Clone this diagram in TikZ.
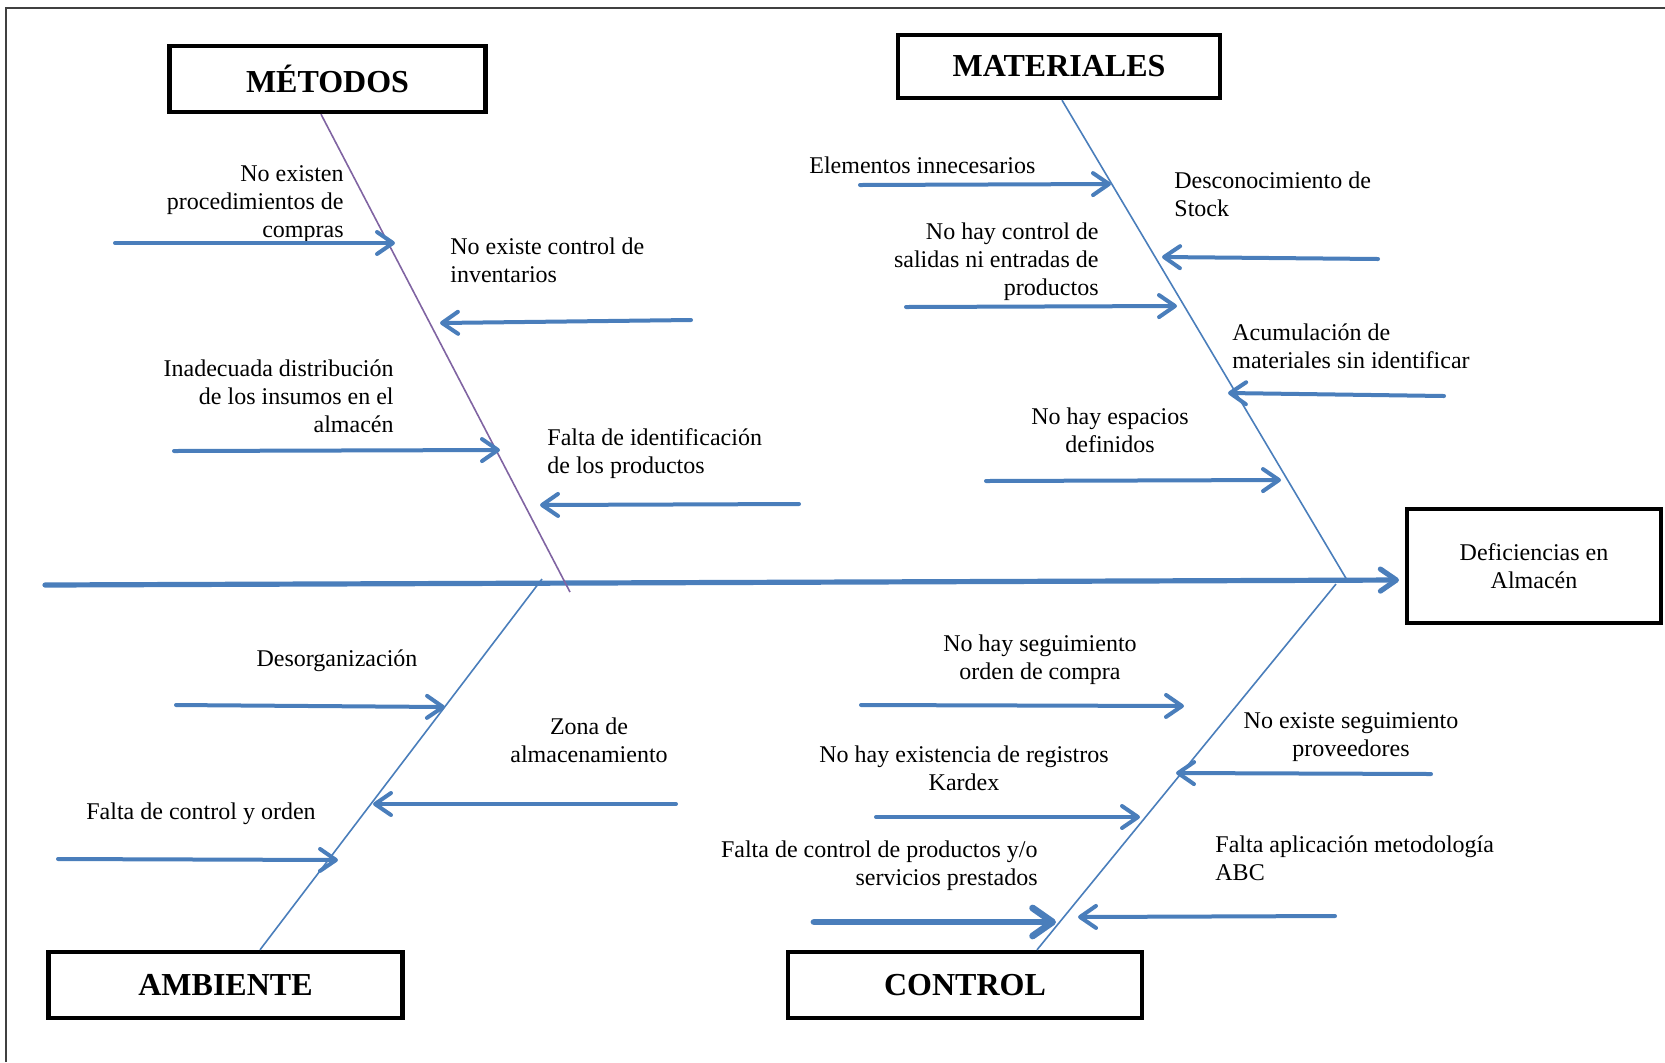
\documentclass[tikz,border=0pt]{standalone}
\usepackage{fontspec}
\setmainfont{Liberation Serif}
\usetikzlibrary{arrows.meta}
\definecolor{fishblue}{HTML}{4A7EBB}
\definecolor{fishpurple}{HTML}{8064A2}
\definecolor{framegray}{HTML}{404040}
\begin{document}
\begin{tikzpicture}[x=0.5pt,y=-0.5pt,
  lbl/.style={font=\fontsize{12}{14}\selectfont, inner sep=0pt},
  titlebox/.style={draw=black, line width=2.2pt, font=\fontsize{16}{19}\selectfont\bfseries, inner sep=0pt},
  effectbox/.style={draw=black, line width=2.2pt, font=\fontsize{12}{14}\selectfont, align=center, inner sep=0pt},
  cause/.style={draw=fishblue, line width=2pt, line cap=round, -{Straight Barb[length=8pt,width=11pt,round]}},
  bigcause/.style={draw=fishblue, line width=3.4pt, line cap=round, -{Straight Barb[length=10pt,width=14pt,round]}},
  bone/.style={draw=fishblue, line width=0.8pt},
  purplebone/.style={draw=fishpurple, line width=0.8pt},
  spine/.style={draw=fishblue, line width=2.6pt, line cap=round, -{Straight Barb[length=8pt,width=11pt,round]}},
]
\useasboundingbox (0,0) rectangle (1665,1062);
% frame
\coordinate (frBL) at (6,1062);
\coordinate (frTL) at (6,8);
\coordinate (frTR) at (1665,8);
\draw[framegray, line width=0.8pt] (frBL) -- (frTL) -- (frTR);

% title boxes
\node[titlebox, minimum width=158pt, minimum height=33pt] (metodos) at (327.5,79) {MÉTODOS};
\node[titlebox, minimum width=161pt, minimum height=31.5pt] (materiales) at (1059,66.5) {MATERIALES};
\node[titlebox, minimum width=177pt, minimum height=33pt] (ambiente) at (225.5,985) {AMBIENTE};
\node[titlebox, minimum width=177pt, minimum height=33pt] (control) at (965,985) {CONTROL};
\node[effectbox, minimum width=127pt, minimum height=57pt] (effect) at (1534,566) {Deficiencias en\\Almacén};

% spine
\coordinate (spineStart) at (45,585);
\coordinate (spineEnd) at (1399,580);
\draw[spine] (spineStart) -- (spineEnd);

% bones
\coordinate (mBone) at (321,0);
\coordinate (mJoin) at (570,592);
\coordinate (maBone) at (1062,0);
\coordinate (maJoin) at (1347,580);
\coordinate (aBone) at (260,0);
\coordinate (aJoin) at (542,579);
\coordinate (cBone) at (1037,0);
\coordinate (cJoin) at (1336,584);
\draw[purplebone] (metodos.south -| mBone) -- (mJoin);
\draw[bone] (materiales.south -| maBone) -- (maJoin);
\draw[bone] (ambiente.north -| aBone) -- (aJoin);
\draw[bone] (control.north -| cBone) -- (cJoin);

% Metodos causes
\node[lbl, anchor=east, align=right] (m1) at (344,204) {No existen\\procedimientos de\\compras};
\node[lbl, anchor=west, align=left] (m2) at (450,260) {No existe control de\\inventarios};
\node[lbl, anchor=east, align=right] (m3) at (394,396) {Inadecuada distribución\\de los insumos en el\\almacén};
\node[lbl, anchor=west, align=left] (m4) at (547,454) {Falta de identificación\\de los productos};
\coordinate (m1s) at (115,243); \coordinate (m1e) at (395,243);
\coordinate (m2s) at (691,320); \coordinate (m2e) at (440,323);
\coordinate (m3s) at (174,451); \coordinate (m3e) at (500,450);
\coordinate (m4s) at (799,504); \coordinate (m4e) at (540,505);
\draw[cause] (m1s) -- (m1e);
\draw[cause] (m2s) -- (m2e);
\draw[cause] (m3s) -- (m3e);
\draw[cause] (m4s) -- (m4e);

% Materiales causes
\node[lbl, anchor=west] (ma1) at (809,165) {Elementos innecesarios};
\node[lbl, anchor=west, align=left] (ma2) at (1174,194) {Desconocimiento de\\Stock};
\node[lbl, anchor=east, align=right] (ma3) at (1099,262) {No hay control de\\salidas ni entradas de\\productos};
\node[lbl, anchor=west, align=left] (ma4) at (1232,346) {Acumulación de\\materiales sin identificar};
\node[lbl, align=center] (ma5) at (1110,430) {No hay espacios\\definidos};
\coordinate (ma1s) at (860,185); \coordinate (ma1e) at (1111,184);
\coordinate (ma2s) at (1378,259); \coordinate (ma2e) at (1162,257);
\coordinate (ma3s) at (906,307); \coordinate (ma3e) at (1177,306);
\coordinate (ma4s) at (1444,396); \coordinate (ma4e) at (1228,393);
\coordinate (ma5s) at (986,481); \coordinate (ma5e) at (1281,480);
\draw[cause] (ma1s) -- (ma1e);
\draw[cause] (ma2s) -- (ma2e);
\draw[cause] (ma3s) -- (ma3e);
\draw[cause] (ma4s) -- (ma4e);
\draw[cause] (ma5s) -- (ma5e);

% Ambiente causes
\node[lbl] (a1) at (337,661) {Desorganización};
\node[lbl, align=center] (a2) at (589,740) {Zona de\\almacenamiento};
\node[lbl] (a3) at (201,814) {Falta de control y orden};
\coordinate (a1s) at (176,705); \coordinate (a1e) at (445,707);
\coordinate (a2s) at (676,804); \coordinate (a2e) at (373,804);
\coordinate (a3s) at (58,859); \coordinate (a3e) at (338,860);
\draw[cause] (a1s) -- (a1e);
\draw[cause] (a2s) -- (a2e);
\draw[cause] (a3s) -- (a3e);

% Control causes
\node[lbl, align=center] (c1) at (1040,660) {No hay seguimiento\\orden de compra};
\node[lbl, align=center] (c2) at (1351,737) {No existe seguimiento\\proveedores};
\node[lbl, align=center] (c3) at (964,768) {No hay existencia de registros\\Kardex};
\node[lbl, anchor=east, align=right] (c4) at (1038,866) {Falta de control de productos y/o\\servicios prestados};
\node[lbl, anchor=west, align=left] (c5) at (1215,858) {Falta aplicación metodología\\ABC};
\coordinate (c1s) at (861,705); \coordinate (c1e) at (1184,706);
\coordinate (c2s) at (1431,774); \coordinate (c2e) at (1176,773);
\coordinate (c3s) at (876,817); \coordinate (c3e) at (1140,817);
\coordinate (c4s) at (814,922); \coordinate (c4e) at (1056,922);
\coordinate (c5s) at (1335,916); \coordinate (c5e) at (1078,917);
\draw[cause] (c1s) -- (c1e);
\draw[cause] (c2s) -- (c2e);
\draw[cause] (c3s) -- (c3e);
\draw[bigcause] (c4s) -- (c4e);
\draw[cause] (c5s) -- (c5e);
\end{tikzpicture}
\end{document}
